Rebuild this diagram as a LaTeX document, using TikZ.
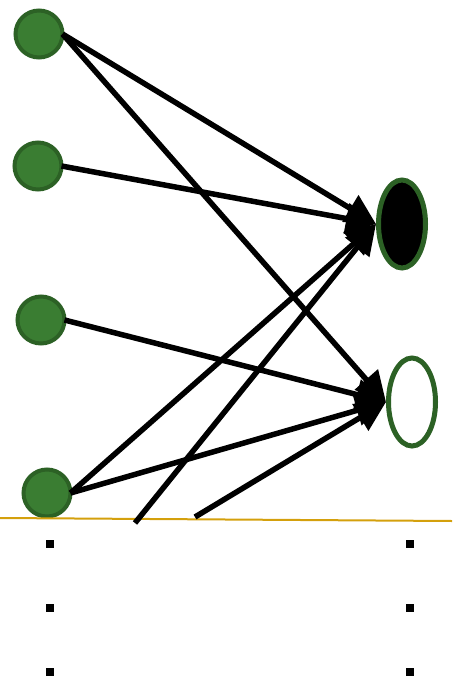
\documentclass[tikz,border=0pt]{standalone}
\usetikzlibrary{arrows.meta,shapes.geometric}
\definecolor{nodegreen}{HTML}{3A7D32}
\definecolor{edgegreen}{HTML}{2C6125}
\definecolor{gold}{HTML}{D4A00C}
\tikzset{
  inputnode/.style={circle,fill=nodegreen,draw=edgegreen,line width=4pt,minimum size=47pt,inner sep=0pt},
  outnode/.style={ellipse,draw=edgegreen,line width=5pt,inner sep=0pt,minimum width=47pt,minimum height=88pt},
  conn/.style={line width=5.5pt,black,-{Triangle[length=30pt,width=30pt]}},
  dotmark/.style={fill=black,minimum size=8pt,inner sep=0pt,rectangle}
}
\begin{document}
\begin{tikzpicture}[x=1pt,y=-1pt]
\useasboundingbox (0,0) rectangle (452,690);
\node[inputnode] (c1) at (39,34) {};
\node[inputnode] (c2) at (38,166) {};
\node[inputnode] (c3) at (41,320) {};
\node[inputnode] (c4) at (47,493) {};
\node[outnode,fill=black] (e1) at (402,224) {};
\node[outnode,fill=white] (e2) at (412,402) {};
\coordinate (f1) at (135,523);
\coordinate (f2) at (195,517);
\coordinate (g1) at (0,518);
\coordinate (g2) at (452,521);
\draw[gold,line width=2pt] (g1) -- (g2);
\draw[conn] ([xshift=-2pt]c1.east) -- (e1.west);
\draw[conn] ([xshift=-2pt]c1.east) -- (e2.west);
\draw[conn] ([xshift=-2pt]c2.east) -- (e1.west);
\draw[conn] ([xshift=-2pt]c3.east) -- (e2.west);
\draw[conn] ([xshift=-2pt]c4.east) -- (e1.west);
\draw[conn] ([xshift=-2pt]c4.east) -- (e2.west);
\draw[conn] (f1) -- (e1.west);
\draw[conn] (f2) -- (e2.west);
\foreach \y [count=\i] in {544,608,672}{
  \node[dotmark] (dl\i) at (50,\y) {};
  \node[dotmark] (dr\i) at (410,\y) {};
}
\end{tikzpicture}
\end{document}
